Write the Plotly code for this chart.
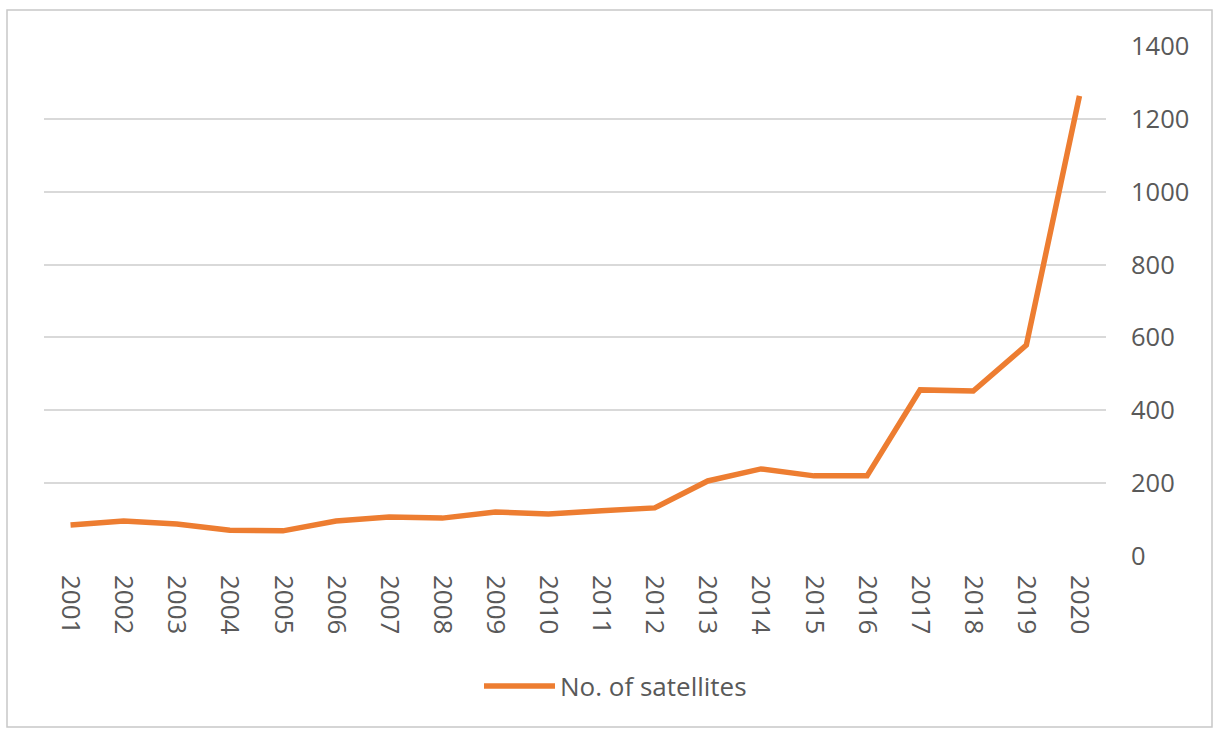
import plotly.graph_objects as go

years = [str(y) for y in range(2001, 2021)]
satellites = [85, 96, 88, 71, 69, 96, 107, 104, 121, 115, 124, 132, 206, 239, 220, 220, 456, 453, 579, 1263]
y_ticks = [0, 200, 400, 600, 800, 1000, 1200, 1400]
series_name = "No. of satellites"

W, H = 1219, 729
L, R, T, B = 44, 113, 46, 173
pw, ph = W - L - R, H - T - B

def px_x(x):
    return (x - L) / pw

def px_y(y):
    return (H - B - y) / ph

color = "#ED7D31"
fig = go.Figure()
fig.add_trace(go.Scatter(
    x=years, y=satellites, mode="lines", name=series_name,
    line=dict(color=color, width=5.5), showlegend=False,
))

fam = "Open Sans, Lato, sans-serif"
grey = "#595959"
yfont = dict(family=fam, size=25.5, color=grey)
xfont = dict(family=fam, size=26, color=grey)

fig.update_layout(
    width=W, height=H,
    margin=dict(l=L, r=R, t=T, b=B, autoexpand=False),
    paper_bgcolor="white", plot_bgcolor="white",
    font=yfont,
    xaxis=dict(type="category", range=[-0.5, len(years) - 0.5], tickangle=90, showgrid=False,
               zeroline=False, showline=False, ticks="", tickfont=xfont, ticklabelstandoff=18),
    yaxis=dict(side="right", range=[0, 1400], tickvals=y_ticks, showgrid=True, gridcolor="#d9d9d9",
               gridwidth=1.5, zeroline=False, showline=False, ticks="", tickfont=yfont,
               ticklabelstandoff=24),
    shapes=[
        dict(type="rect", xref="paper", yref="paper",
             x0=px_x(7), x1=px_x(1212), y0=px_y(727), y1=px_y(10),
             line=dict(color="#c8c8c8", width=1.5), fillcolor="rgba(0,0,0,0)", layer="below"),
        dict(type="line", xref="paper", yref="paper",
             x0=px_x(484), x1=px_x(555), y0=px_y(686), y1=px_y(686),
             line=dict(color=color, width=5.5)),
    ],
    annotations=[dict(text=series_name, xref="paper", yref="paper", x=px_x(558), y=px_y(686),
                      xanchor="left", yanchor="middle", showarrow=False,
                      font=dict(family=fam, size=26, color=grey))],
)

fig.write_html("out.html")
